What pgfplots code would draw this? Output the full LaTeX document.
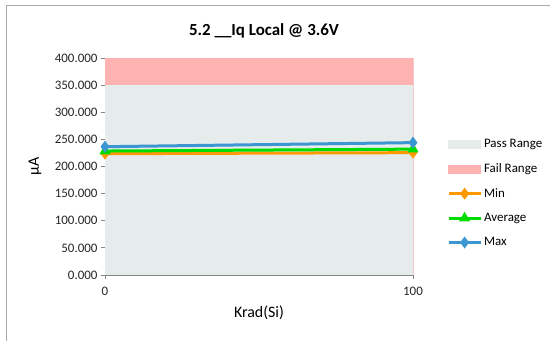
\documentclass[border=0pt]{standalone}
\usepackage{pgfplots}
\pgfplotsset{compat=1.18}
\usepackage{fontspec}
\setmainfont{Carlito}
\definecolor{passc}{RGB}{230,235,235}
\definecolor{failc}{RGB}{255,178,178}
\definecolor{minc}{RGB}{255,153,0}
\definecolor{avgc}{RGB}{0,220,0}
\definecolor{maxc}{RGB}{60,150,210}
\definecolor{axc}{RGB}{134,134,134}
\begin{document}
\begin{tikzpicture}
\path[use as bounding box] (0,0) rectangle (550bp,341bp);
\draw[color=axc!70, line width=1bp] (6bp,0) -- (6bp,335bp) -- (550bp,335bp);
\node[font=\fontsize{17}{20}\selectfont\bfseries] at (264bp,310bp) {5.2 \_\_Iq Local @ 3.6V};
\begin{axis}[
  at={(105bp,66bp)}, anchor=south west,
  width=308bp, height=217bp, scale only axis,
  xmin=0, xmax=100, ymin=0, ymax=400,
  axis lines*=left,
  axis line style={color=axc, line width=0.8bp},
  xtick={0,100}, ytick={0,50,...,400},
  tick style={color=axc, line width=0.8bp},
  tick align=outside,
  major tick length=4bp,
  ticklabel style={font=\fontsize{13}{15}\selectfont, color=black!85},
  xticklabel style={yshift=-5bp},
  /pgf/number format/assume math mode=true,
  yticklabel style={/pgf/number format/.cd, fixed, fixed zerofill, precision=3, 1000 sep={}},
  xlabel={Krad(Si)}, ylabel={µA},
  label style={font=\fontsize{16}{18}\selectfont},
  xlabel style={at={(axis description cs:0.5,-0.175)}, anchor=center},
  ylabel style={at={(axis description cs:-0.227,0.5)}, anchor=center},
  clip=false,
  legend style={at={(1.110,0.636)}, anchor=north west, draw=none, fill=none,
    font=\fontsize{13}{15}\selectfont, row sep=10.5bp, inner sep=0pt,
    /tikz/every even column/.append style={column sep=3bp}},
  legend cell align=left,
  legend image code/.code={\draw[mark repeat=2,mark phase=2,#1] plot coordinates {(0bp,0bp) (16bp,0bp) (32bp,0bp)};},
]
\addplot[fill=passc, draw=none, forget plot] coordinates {(0,0) (100,0) (100,350) (0,350)} -- cycle;
\addplot[fill=failc, draw=none, forget plot] coordinates {(0,350) (100,350) (100,400) (0,400)} -- cycle;
\draw[color=failc!60!passc, line width=0.6bp] (axis cs:100,0) -- (axis cs:100,400);
\addlegendimage{legend image code/.code={\fill[passc] (0bp,-4bp) rectangle (32bp,4bp);}}
\addlegendentry{Pass Range}
\addlegendimage{legend image code/.code={\fill[failc] (0bp,-4bp) rectangle (32bp,4bp);}}
\addlegendentry{Fail Range}
\addplot[color=minc, line width=3bp, mark=diamond*, mark size=3.5bp, mark options={solid}] coordinates {(0,223.6) (100,225.5)};
\addlegendentry{Min}
\addplot[color=avgc, line width=3bp, mark=triangle*, mark size=3.5bp, mark options={solid}] coordinates {(0,228.5) (100,232)};
\addlegendentry{Average}
\addplot[color=maxc, line width=3bp, mark=diamond*, mark size=3.5bp, mark options={solid}] coordinates {(0,236.5) (100,244)};
\addlegendentry{Max}
\end{axis}
\end{tikzpicture}
\end{document}
